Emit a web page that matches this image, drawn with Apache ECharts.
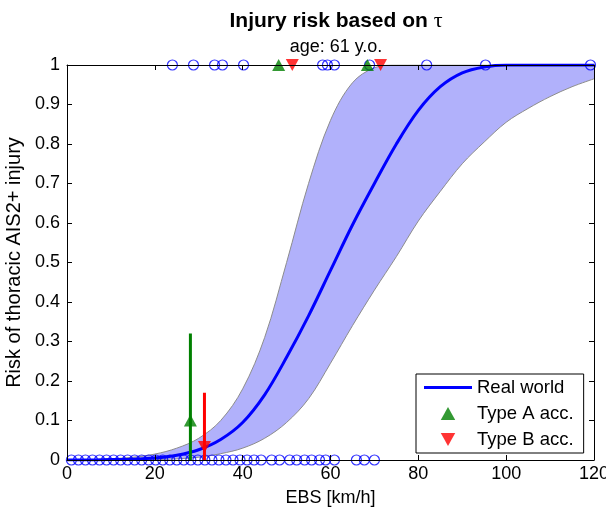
<!DOCTYPE html>
<html>
<head>
<meta charset="utf-8">
<script src="https://cdn.jsdelivr.net/npm/echarts@6/dist/echarts.min.js"></script>
<style>
html,body{margin:0;padding:0;background:#fff;}
#chart{width:606px;height:509px;}
</style>
</head>
<body>
<div id="chart"></div>
<script>
// ---- data ----
const curveX   = [0,5,10,15,20,25,30,35,40,45,50,55,60,65,70,75,80,85,90,95,100,105,110,115,120];
const realWorld = [0,0,0.001,0.002,0.005,0.012,0.026,0.052,0.095,0.165,0.26,0.365,0.48,0.595,0.70,0.80,0.885,0.945,0.98,0.995,1,1,1,1,1];
const upperBand = [0,0.001,0.003,0.007,0.015,0.03,0.055,0.10,0.18,0.31,0.50,0.70,0.86,0.955,0.993,1,1,1,1,1,1,1,1,1,1];
const lowerBand = [0,0,0,0,0.001,0.003,0.007,0.016,0.03,0.055,0.095,0.155,0.245,0.34,0.43,0.515,0.605,0.68,0.75,0.805,0.855,0.89,0.92,0.945,0.965];

const injuredX   = [24.0,28.8,33.6,35.4,40.2,58.2,59.3,60.9,68.9,81.9,95.3,119.2];   // y = 1
const uninjuredX = [1,2.6,4.2,5.8,7.4,9,10.6,12.2,13.8,15.4,17,18.6,20.2,21.8,23.4,25,26.6,28.2,29.8,31.4,33,34.6,36.2,37.8,39.4,41,42.6,44.2,46.6,48.4,50.7,52.3,54.1,55.7,57.5,58.9,60.9,65.9,67.7,70.0]; // y = 0

const typeAInjuredX = [48.2, 68.4];
const typeBInjuredX = [51.3, 71.4];

const typeAPoint = [28.1, 0.10];
const typeARange = [0, 0.32];
const typeBPoint = [31.3, 0.033];
const typeBRange = [0, 0.17];

const xTicks = {min:0, max:120, interval:20};
const yTicks = {min:0, max:1, interval:0.1};

const titleMain = 'Injury risk based on ';
const titleSymbol = 'τ';
const subtitleText = 'age: 61 y.o.';
const xName = 'EBS [km/h]';
const yName = 'Risk of thoracic AIS2+ injury';
const legendNames = ['Real world','Type A acc.','Type B acc.'];

// ---- build ----
const zip = (xs, ys) => xs.map((x,i)=>[x, ys[i]]);
const FONT = 'Liberation Sans, Arial, sans-serif';
const BLUE = '#0000ff', GREEN = '#008000', RED = '#ff0000';
const UP = 'path://M5,0 L10,9 L0,9 Z';
const DOWN = 'path://M0,0 L10,0 L5,9 Z';

const chart = echarts.init(document.getElementById('chart'), null, {renderer:'canvas'});
const grid = {left:67, right:12, top:65, bottom:49, containLabel:false, outerBoundsMode:'none'};

const axisCommon = {
  axisLine:{show:true, onZero:false, lineStyle:{color:'#000', width:1}},
  axisTick:{show:true, inside:true, length:5, lineStyle:{color:'#000'}},
  splitLine:{show:false}, z:10
};

const option = {
  animation:false,
  backgroundColor:'#fff',
  title:[
    {text:'{b|' + titleMain + '}{t|' + titleSymbol + '}', left:331, top:5, textAlign:'center',
     textStyle:{fontFamily:FONT, fontSize:21, fontWeight:'bold', color:'#000',
       rich:{
         b:{fontFamily:FONT, fontSize:21, fontWeight:'bold', color:'#000'},
         t:{fontFamily:'Liberation Serif, Times New Roman, serif', fontSize:22, fontWeight:'normal', color:'#000'}
       }}},
    {text:subtitleText, left:331, top:33, textAlign:'center',
     textStyle:{fontFamily:FONT, fontSize:18, fontWeight:'normal', color:'#000'}}
  ],
  grid:grid,
  legend:{
    data:[
      {name:legendNames[0], icon:'path://M0,0 H48 V3 H0 Z'},
      {name:legendNames[1], icon:UP},
      {name:legendNames[2], icon:DOWN}
    ],
    orient:'vertical', left:416, top:374,
    padding:[4,10,4,8],
    itemWidth:48, itemHeight:13, itemGap:7,
    backgroundColor:'#fff', borderColor:'#000', borderWidth:1, borderRadius:0,
    textStyle:{fontFamily:FONT, fontSize:18.5, color:'#000'},
    selectedMode:false, z:20
  },
  xAxis:[
    Object.assign({type:'value', min:xTicks.min, max:xTicks.max, interval:xTicks.interval, position:'bottom',
     name:xName, nameLocation:'middle', nameGap:29,
     nameTextStyle:{fontFamily:FONT, fontSize:18, color:'#000'},
     axisLabel:{fontFamily:FONT, fontSize:18, color:'#000', margin:5}}, axisCommon),
    Object.assign({type:'value', min:xTicks.min, max:xTicks.max, interval:xTicks.interval, position:'top',
     axisLabel:{show:false}}, axisCommon)
  ],
  yAxis:[
    Object.assign({type:'value', min:yTicks.min, max:yTicks.max, interval:yTicks.interval, position:'left',
     name:yName, nameLocation:'middle', nameGap:39, nameRotate:90,
     nameTextStyle:{fontFamily:FONT, fontSize:20, color:'#000'},
     axisLabel:{fontFamily:FONT, fontSize:18, color:'#000', margin:7,
       formatter:v=>String(Math.round(v*10)/10)}}, axisCommon),
    Object.assign({type:'value', min:yTicks.min, max:yTicks.max, interval:yTicks.interval, position:'right',
     axisLabel:{show:false}}, axisCommon)
  ],
  series:[
    {name:'upper', type:'line', data:zip(curveX, upperBand), smooth:0.35,
     showSymbol:false, lineStyle:{color:'#8c8c8c', width:1},
     areaStyle:{color:'#b1b1fb', opacity:1}, z:1, silent:true},
    {name:'lower', type:'line', data:zip(curveX, lowerBand), smooth:0.35,
     showSymbol:false, lineStyle:{color:'#8c8c8c', width:1},
     areaStyle:{color:'#ffffff', opacity:1}, z:1.5, silent:true},
    {name:legendNames[0], type:'line', data:zip(curveX, realWorld), smooth:0.35,
     showSymbol:false, lineStyle:{color:BLUE, width:3}, itemStyle:{color:BLUE}, z:3},
    {name:'injured', type:'scatter', data:injuredX.map(x=>[x,1]), symbol:'circle', symbolSize:10,
     itemStyle:{color:'transparent', borderColor:BLUE, borderWidth:1.2}, clip:false, z:4},
    {name:'uninjured', type:'scatter', data:uninjuredX.map(x=>[x,0]), symbol:'circle', symbolSize:10,
     itemStyle:{color:'transparent', borderColor:BLUE, borderWidth:1.2}, clip:false, z:4},
    {name:'rangeA', type:'line', data:[[typeAPoint[0], typeARange[0]],[typeAPoint[0], typeARange[1]]],
     showSymbol:false, lineStyle:{color:GREEN, width:3}, z:5, silent:true},
    {name:'rangeB', type:'line', data:[[typeBPoint[0], typeBRange[0]],[typeBPoint[0], typeBRange[1]]],
     showSymbol:false, lineStyle:{color:RED, width:3}, z:5, silent:true},
    {name:legendNames[1], type:'scatter', data:[typeAPoint].concat(typeAInjuredX.map(x=>[x,1])),
     symbol:UP, symbolSize:[13,12], itemStyle:{color:GREEN}, clip:false, z:6},
    {name:legendNames[2], type:'scatter', data:[typeBPoint].concat(typeBInjuredX.map(x=>[x,1])),
     symbol:DOWN, symbolSize:[13,12], itemStyle:{color:RED}, clip:false, z:6}
  ]
};
chart.setOption(option);
</script>
</body>
</html>
